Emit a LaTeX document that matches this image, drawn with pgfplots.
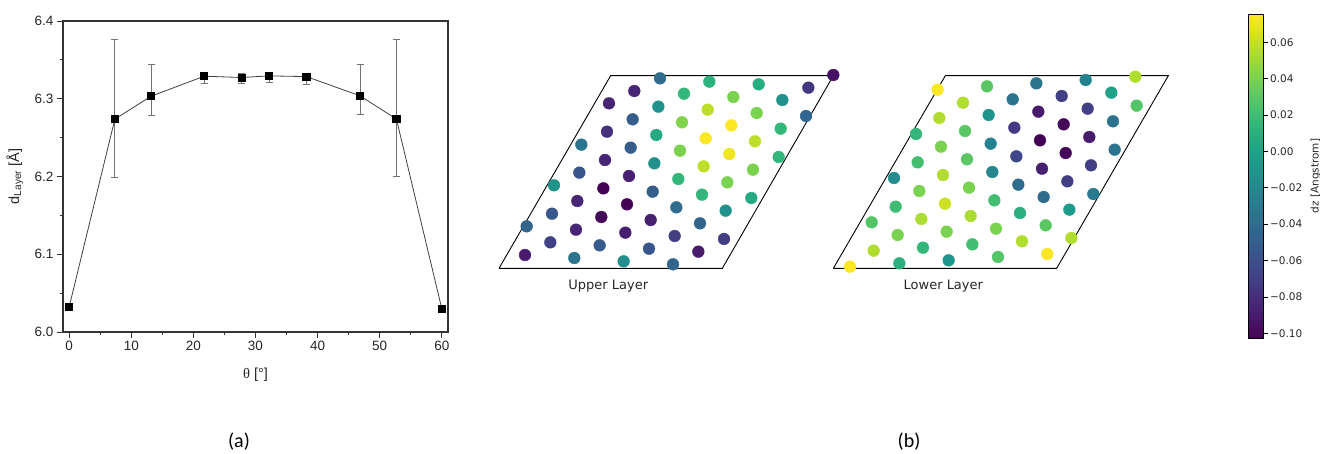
\documentclass[border=0pt]{standalone}
\usepackage{pgfplots}
\usepackage{pgfplotstable}
\pgfplotsset{compat=1.18}
\usepackage{fontspec}
\setmainfont{Liberation Sans}
\newfontfamily\arial{Liberation Sans}
\newfontfamily\timesf{Liberation Serif}
\newfontfamily\dejavu{DejaVu Sans}
\newfontfamily\calibri{Carlito}

\pgfplotstableread{
x y ep em
0 6.0325 0 0
7.35 6.2738 0.103 0.0755
13.2 6.3033 0.041 0.025
21.75 6.3290 0.004 0.009
27.75 6.3273 0.0056 0.0078
32.2 6.3294 0.004 0.009
38.2 6.3285 0.004 0.0095
46.85 6.3037 0.040 0.0244
52.7 6.2738 0.103 0.0738
60 6.0300 0 0
}\dataA

\pgfplotstableread{
x y c
510 55 -0.04
658 65 0.012
806 73 0.008
955 83 -0.075
1030 45 -0.095
433 93 -0.085
582 101 0.015
730 111 0.04
877 120 -0.012
357 130 -0.085
505 140 -0.012
653 149 0.058
800 159 0.04
948 168 -0.045
428 178 -0.05
576 187 0.042
724 196 0.075
872 206 0.015
351 215 -0.078
499 225 0.005
647 235 0.075
795 244 0.058
274 254 -0.035
422 263 -0.05
570 272 0.04
718 282 0.072
866 291 0.015
345 300 -0.085
493 310 -0.013
641 319 0.058
789 329 0.04
268 338 -0.055
417 348 -0.087
565 357 0.015
712 367 0.04
192 376 -0.012
340 385 -0.102
488 395 -0.05
636 404 0.015
784 414 0.005
262 423 -0.085
411 433 -0.102
559 442 -0.04
707 452 -0.012
186 461 -0.055
334 471 -0.1
482 480 -0.087
630 490 -0.045
110 499 -0.045
258 509 -0.085
406 518 -0.087
554 528 -0.07
702 537 -0.07
181 547 -0.068
329 556 -0.052
477 566 -0.055
625 575 -0.09
105 585 -0.09
253 594 -0.035
401 604 -0.015
549 613 -0.045
}\upperT

\pgfplotstableread{
x y c
931 50 0.055
338 89 0.075
486 79 0.03
634 70 -0.035
782 60 -0.025
859 98 0.0
935 137 0.028
414 128 0.055
563 118 -0.035
710 108 -0.07
343 174 0.055
491 165 -0.01
640 155 -0.09
788 146 -0.07
864 184 -0.035
273 222 0.015
420 213 0.03
568 203 -0.072
716 193 -0.1
348 260 0.04
497 251 -0.025
645 241 -0.102
793 231 -0.09
869 269 -0.035
278 307 0.022
426 298 0.03
574 289 -0.065
722 279 -0.1
207 354 -0.015
354 345 0.055
502 336 -0.02
651 326 -0.087
798 316 -0.07
283 393 0.04
432 383 0.04
580 374 -0.04
727 364 -0.07
805 402 -0.03
212 440 0.02
360 431 0.062
508 421 0.022
656 411 -0.04
140 487 0.028
289 477 0.053
437 468 0.053
585 459 0.01
733 449 -0.005
218 525 0.04
365 515 0.04
513 506 0.04
662 496 0.03
146 572 0.055
294 563 0.015
442 553 0.022
591 544 0.055
739 534 0.055
75 620 0.075
223 610 0.01
371 601 -0.01
519 591 0.028
667 582 0.075
}\lowerT

\begin{document}
\begin{tikzpicture}[x=1pt,y=1pt]
\useasboundingbox (0,0) rectangle (1320,454);

% ---------- (a) ----------
\begin{axis}[
  at={(63pt,122pt)}, anchor=south west,
  scale only axis, width=385pt, height=311pt,
  xmin=-1, xmax=61, ymin=6.0, ymax=6.4,
  axis line style={draw=black!80, line width=1.1pt},
  xtick={0,10,20,30,40,50,60}, xticklabels={0,10,20,30,40,50,60},
  ytick={6.0,6.1,6.2,6.3,6.4}, yticklabels={6.0,6.1,6.2,6.3,6.4},
  minor xtick={5,15,25,35,45,55}, minor ytick={6.05,6.15,6.25,6.35},
  tick pos=left, tick align=outside,
  major tick length=6pt, minor tick length=3pt,
  every tick/.style={black!80, line width=0.9pt},
  ticklabel style={font=\arial\fontsize{13.5}{13.5}\selectfont, text=black!85},
  xlabel={{\timesf θ} [°]},
  ylabel={d\textsubscript{Layer} [Å]},
  label style={font=\arial\fontsize{14.5}{14.5}\selectfont, text=black!85},
  xlabel style={at={(axis description cs:0.5,-0.138)}, anchor=center},
  ylabel style={at={(axis description cs:-0.125,0.5)}, anchor=center},
  clip=false,
]
\addplot[draw=black!75, line width=0.8pt, mark=square*, mark size=3.6pt,
  mark options={fill=black, draw=black, solid},
  error bars/.cd, y dir=both, y explicit,
  error bar style={draw=black!55, line width=0.8pt},
  error mark options={rotate=90, draw=black!55, mark size=3.5pt, line width=0.8pt}]
  table[x=x, y=y, y error plus=ep, y error minus=em]{\dataA};
\end{axis}

% ---------- Upper layer ----------
\begin{axis}[
  at={(490pt,154pt)}, anchor=south west,
  scale only axis, width=360pt, height=240pt,
  xmin=0, xmax=1080, ymin=0, ymax=720, y dir=reverse,
  hide axis, clip=false,
  colormap/viridis, point meta min=-0.1026, point meta max=0.0755,
]
\addplot[black, line width=0.9pt] coordinates {(27,625) (697,625) (1030,47) (362,47) (27,625)};
\addplot[scatter, only marks, mark=*, mark size=5.9pt, scatter src=explicit,
  scatter/use mapped color={draw=mapped color, fill=mapped color}]
  table[x=x, y=y, meta=c]{\upperT};
\node[font=\dejavu\fontsize{13}{13}\selectfont, text=black!85] at (axis cs:355,678) {Upper Layer};
\end{axis}

% ---------- Lower layer ----------
\begin{axis}[
  at={(825pt,154pt)}, anchor=south west,
  scale only axis, width=360pt, height=240pt,
  xmin=0, xmax=1080, ymin=0, ymax=720, y dir=reverse,
  hide axis, clip=false,
  colormap/viridis, point meta min=-0.1026, point meta max=0.0755,
]
\addplot[black, line width=0.9pt] coordinates {(25,625) (695,625) (1030,47) (361,47) (25,625)};
\addplot[scatter, only marks, mark=*, mark size=5.9pt, scatter src=explicit,
  scatter/use mapped color={draw=mapped color, fill=mapped color}]
  table[x=x, y=y, meta=c]{\lowerT};
\node[font=\dejavu\fontsize{13}{13}\selectfont, text=black!85] at (axis cs:355,678) {Lower Layer};
\end{axis}

% ---------- Colorbar ----------
\begin{axis}[
  at={(1240pt,116pt)}, anchor=south west,
  scale only axis, width=15pt, height=324pt,
  xmin=0, xmax=1, ymin=0, ymax=1,
  hide axis, clip=false,
  colormap/viridis, point meta min=-0.1026, point meta max=0.0755,
  colorbar,
  colorbar style={
    at={(parent axis.south west)}, anchor=south west, xshift=0pt,
    scale only axis, width=15pt, height=324pt,
    ytick={-0.10,-0.08,-0.06,-0.04,-0.02,0,0.02,0.04,0.06},
    yticklabels={−0.10,−0.08,−0.06,−0.04,−0.02,0.00,0.02,0.04,0.06},
    ytick pos=right, yticklabel pos=right, tick align=outside,
    major tick length=4pt,
    every tick/.style={black, line width=0.7pt},
    axis line style={black, line width=0.7pt},
    yticklabel style={font=\dejavu\fontsize{10.5}{10.5}\selectfont, text=black!85, xshift=-1pt},
  },
]
\addplot[draw=none] coordinates {(0.5,0.5)};
\node[rotate=90, font=\dejavu\fontsize{10.5}{10.5}\selectfont, text=black!85, anchor=center, inner sep=0pt] at (axis description cs:5.05,0.5) {dz [Angstrom]};
\end{axis}

\node[font=\calibri\fontsize{20}{24}\selectfont] at (239,12) {(a)};
\node[font=\calibri\fontsize{20}{24}\selectfont] at (909,12) {(b)};
\end{tikzpicture}
\end{document}
